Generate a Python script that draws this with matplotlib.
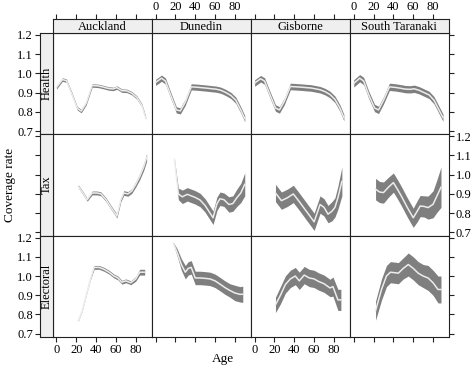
import numpy as np
import matplotlib
matplotlib.use("Agg")
import matplotlib.pyplot as plt

plt.rcParams['font.family'] = ['Liberation Serif', 'DejaVu Serif']

regions = ["Auckland", "Dunedin", "Gisborne", "South Taranaki"]
sources = ["Health", "Tax", "Electoral"]
x_ticks = [0, 20, 40, 60, 80]
y_ticks = [0.7, 0.8, 0.9, 1.0, 1.1, 1.2]

# ---- Health ----
health_age = [0, 6, 10, 15, 21, 25, 30, 36, 42, 48, 52, 57, 61, 66, 71, 76, 81, 86, 90]
health_auckland = [0.927, 0.968, 0.962, 0.90, 0.818, 0.804, 0.845, 0.937, 0.935, 0.928, 0.922, 0.919, 0.926, 0.91, 0.909, 0.897, 0.875, 0.835, 0.77]
health_auckland_hw = [0.009] * 19
health_dunedin = [0.953, 0.975, 0.96, 0.89, 0.81, 0.805, 0.85, 0.93, 0.928, 0.925, 0.923, 0.92, 0.918, 0.912, 0.90, 0.885, 0.86, 0.81, 0.765]
health_dunedin_hw = [0.016] * 19
health_gisborne = [0.95, 0.972, 0.96, 0.895, 0.82, 0.81, 0.855, 0.932, 0.93, 0.928, 0.926, 0.924, 0.92, 0.915, 0.905, 0.89, 0.865, 0.82, 0.77]
health_gisborne_hw = [0.017] * 19
health_taranaki = [0.948, 0.975, 0.96, 0.89, 0.82, 0.81, 0.86, 0.93, 0.927, 0.922, 0.918, 0.917, 0.92, 0.912, 0.90, 0.888, 0.86, 0.81, 0.77]
health_taranaki_hw = [0.019] * 19

# ---- Tax ----
tax_auckland_age = [22, 26, 31, 36, 41, 45, 50, 55, 61, 65, 68, 72, 76, 80, 84, 88, 91]
tax_auckland = [0.94, 0.91, 0.87, 0.905, 0.905, 0.90, 0.87, 0.83, 0.785, 0.87, 0.905, 0.90, 0.915, 0.95, 0.99, 1.04, 1.09]
tax_auckland_hw = [0.008, 0.008, 0.008, 0.01, 0.01, 0.01, 0.01, 0.01, 0.01, 0.01, 0.012, 0.012, 0.012, 0.014, 0.016, 0.018, 0.02]
tax_dunedin_age = [19, 23, 27, 32, 36, 40, 45, 50, 55, 58, 62, 65, 69, 74, 78, 82, 86, 90]
tax_dunedin = [1.08, 0.90, 0.885, 0.898, 0.89, 0.882, 0.868, 0.84, 0.80, 0.776, 0.85, 0.875, 0.87, 0.845, 0.85, 0.88, 0.905, 0.95]
tax_dunedin_hw = [0.003, 0.03, 0.035, 0.035, 0.035, 0.035, 0.035, 0.035, 0.035, 0.035, 0.035, 0.035, 0.035, 0.04, 0.04, 0.045, 0.05, 0.06]
tax_gisborne_age = [21, 27, 33, 39, 45, 50, 55, 60, 63, 66, 70, 74, 78, 81, 84, 88]
tax_gisborne = [0.905, 0.865, 0.88, 0.90, 0.86, 0.825, 0.79, 0.755, 0.80, 0.845, 0.83, 0.795, 0.81, 0.83, 0.88, 0.965]
tax_gisborne_hw = [0.045, 0.045, 0.045, 0.045, 0.045, 0.045, 0.045, 0.045, 0.045, 0.045, 0.045, 0.045, 0.05, 0.05, 0.06, 0.075]
tax_taranaki_age = [22, 26, 30, 35, 40, 44, 48, 54, 60, 64, 67, 71, 75, 80, 84, 88]
tax_taranaki = [0.925, 0.91, 0.907, 0.935, 0.959, 0.925, 0.889, 0.83, 0.776, 0.81, 0.837, 0.835, 0.829, 0.846, 0.89, 0.935]
tax_taranaki_hw = [0.056, 0.055, 0.055, 0.052, 0.05, 0.05, 0.05, 0.05, 0.05, 0.055, 0.055, 0.055, 0.06, 0.07, 0.085, 0.105]

# ---- Electoral ----
elec_auckland_age = [22, 26, 30, 34, 38, 43, 48, 53, 58, 62, 66, 70, 75, 80, 84, 89]
elec_auckland = [0.766, 0.82, 0.90, 0.98, 1.045, 1.045, 1.035, 1.02, 1.0, 0.99, 0.968, 0.975, 0.965, 0.985, 1.02, 1.02]
elec_auckland_hw = [0.002, 0.002, 0.002, 0.003, 0.01, 0.01, 0.01, 0.01, 0.01, 0.01, 0.01, 0.01, 0.01, 0.012, 0.015, 0.015]
elec_dunedin_age = [18, 22, 26, 30, 33, 36, 40, 45, 50, 55, 60, 65, 70, 75, 80, 85, 88]
elec_dunedin = [1.17, 1.12, 1.06, 1.02, 1.04, 1.045, 0.99, 0.99, 0.988, 0.985, 0.975, 0.958, 0.94, 0.925, 0.912, 0.905, 0.905]
elec_dunedin_hw = [0.005, 0.02, 0.03, 0.035, 0.035, 0.035, 0.035, 0.035, 0.035, 0.035, 0.035, 0.035, 0.035, 0.035, 0.04, 0.04, 0.042]
elec_gisborne_age = [21, 26, 31, 36, 41, 45, 50, 55, 60, 64, 70, 76, 79, 84, 87]
elec_gisborne = [0.85, 0.90, 0.956, 0.985, 1.0, 0.975, 1.005, 0.99, 0.985, 0.973, 0.96, 0.938, 0.945, 0.876, 0.876]
elec_gisborne_hw = [0.04, 0.045, 0.045, 0.045, 0.045, 0.045, 0.045, 0.045, 0.045, 0.045, 0.045, 0.045, 0.05, 0.055, 0.055]
elec_taranaki_age = [22, 28, 33, 37, 45, 50, 55, 60, 65, 70, 75, 80, 85, 88]
elec_taranaki = [0.82, 0.93, 1.0, 1.02, 1.015, 1.04, 1.06, 1.04, 1.015, 1.0, 0.99, 0.965, 0.93, 0.93]
elec_taranaki_hw = [0.05, 0.055, 0.055, 0.055, 0.055, 0.055, 0.06, 0.06, 0.06, 0.06, 0.065, 0.065, 0.07, 0.07]

panels = {
    (0, 0): (health_age, health_auckland, health_auckland_hw),
    (0, 1): (health_age, health_dunedin, health_dunedin_hw),
    (0, 2): (health_age, health_gisborne, health_gisborne_hw),
    (0, 3): (health_age, health_taranaki, health_taranaki_hw),
    (1, 0): (tax_auckland_age, tax_auckland, tax_auckland_hw),
    (1, 1): (tax_dunedin_age, tax_dunedin, tax_dunedin_hw),
    (1, 2): (tax_gisborne_age, tax_gisborne, tax_gisborne_hw),
    (1, 3): (tax_taranaki_age, tax_taranaki, tax_taranaki_hw),
    (2, 0): (elec_auckland_age, elec_auckland, elec_auckland_hw),
    (2, 1): (elec_dunedin_age, elec_dunedin, elec_dunedin_hw),
    (2, 2): (elec_gisborne_age, elec_gisborne, elec_gisborne_hw),
    (2, 3): (elec_taranaki_age, elec_taranaki, elec_taranaki_hw),
}

W, H = 474, 368
fig = plt.figure(figsize=(W / 100, H / 100), dpi=100)


def rect(x, y, w, h):
    return [x / W, 1 - (y + h) / H, w / W, h / H]


px0, pw = 52.5, 99.1
py0, ph = 33.0, 101.33
XLIM = (-4, 96)
YLIM = (0.683, 1.21)
TICK_FS = 9
STRIP_FS = 9
LABEL_FS = 9.5
SPINE_C = '#222222'
band_c = '#7f7f7f'
line_c = '#ececec'


def style_spines(ax):
    for s in ax.spines.values():
        s.set_linewidth(0.8)
        s.set_color(SPINE_C)


ytl = [f"{v:.1f}" for v in y_ticks]

for (r, c), (age, est, hw) in panels.items():
    ax = fig.add_axes(rect(px0 + c * pw, py0 + r * ph, pw, ph))
    a = np.array(age, float)
    e = np.array(est, float)
    h = np.array(hw, float)
    ax.fill_between(a, e - h, e + h, color=band_c, lw=0)
    ax.plot(a, e, color=line_c, lw=1.1)
    ax.set_xlim(*XLIM)
    ax.set_ylim(*YLIM)
    style_spines(ax)
    ax.set_xticks(x_ticks)
    ax.set_yticks(y_ticks)
    ax.tick_params(direction='out', length=3.5, width=0.8, color=SPINE_C,
                   labelsize=TICK_FS, pad=1.5)
    ax.tick_params(axis='x', top=False, labeltop=False,
                   bottom=(r == 2), labelbottom=(r == 2 and c in (0, 2)))
    ax.set_xticklabels([str(v) for v in x_ticks])
    ax.tick_params(axis='y', left=False, labelleft=False,
                   right=(c == 3), labelright=(c == 3 and r == 1))
    ax.set_yticklabels(ytl)

# column strips (top)
for c, name in enumerate(regions):
    sa = fig.add_axes(rect(px0 + c * pw, 19, pw, 14))
    sa.set_facecolor('#efefef')
    style_spines(sa)
    sa.set_xlim(*XLIM)
    sa.set_ylim(0, 1)
    sa.set_yticks([])
    sa.set_xticks(x_ticks)
    sa.set_xticklabels([str(v) for v in x_ticks])
    sa.tick_params(axis='x', direction='out', length=3.5, width=0.8, color=SPINE_C,
                   labelsize=TICK_FS, pad=1.0, bottom=False, labelbottom=False,
                   top=True, labeltop=(c in (1, 3)))
    sa.text(0.5, 0.45, name, transform=sa.transAxes, ha='center', va='center',
            fontsize=STRIP_FS)

# row strips (left)
for r, name in enumerate(sources):
    sa = fig.add_axes(rect(40, py0 + r * ph, px0 - 40, ph))
    sa.set_facecolor('#efefef')
    style_spines(sa)
    sa.set_xlim(0, 1)
    sa.set_ylim(*YLIM)
    sa.set_xticks([])
    sa.set_yticks(y_ticks)
    sa.set_yticklabels(ytl)
    sa.tick_params(axis='y', direction='out', length=3.5, width=0.8, color=SPINE_C,
                   labelsize=TICK_FS, pad=1.5, left=True, labelleft=(r in (0, 2)),
                   right=False, labelright=False)
    sa.text(0.5, 0.5, name, transform=sa.transAxes, ha='center', va='center',
            rotation=90, fontsize=STRIP_FS)

fig.text(223 / W, 1 - 359 / H, "Age", ha='center', va='center', fontsize=LABEL_FS)
fig.text(10 / W, 1 - 185 / H, "Coverage rate", ha='center', va='center',
         rotation=90, fontsize=LABEL_FS)

fig.savefig("out.png", dpi=100)
